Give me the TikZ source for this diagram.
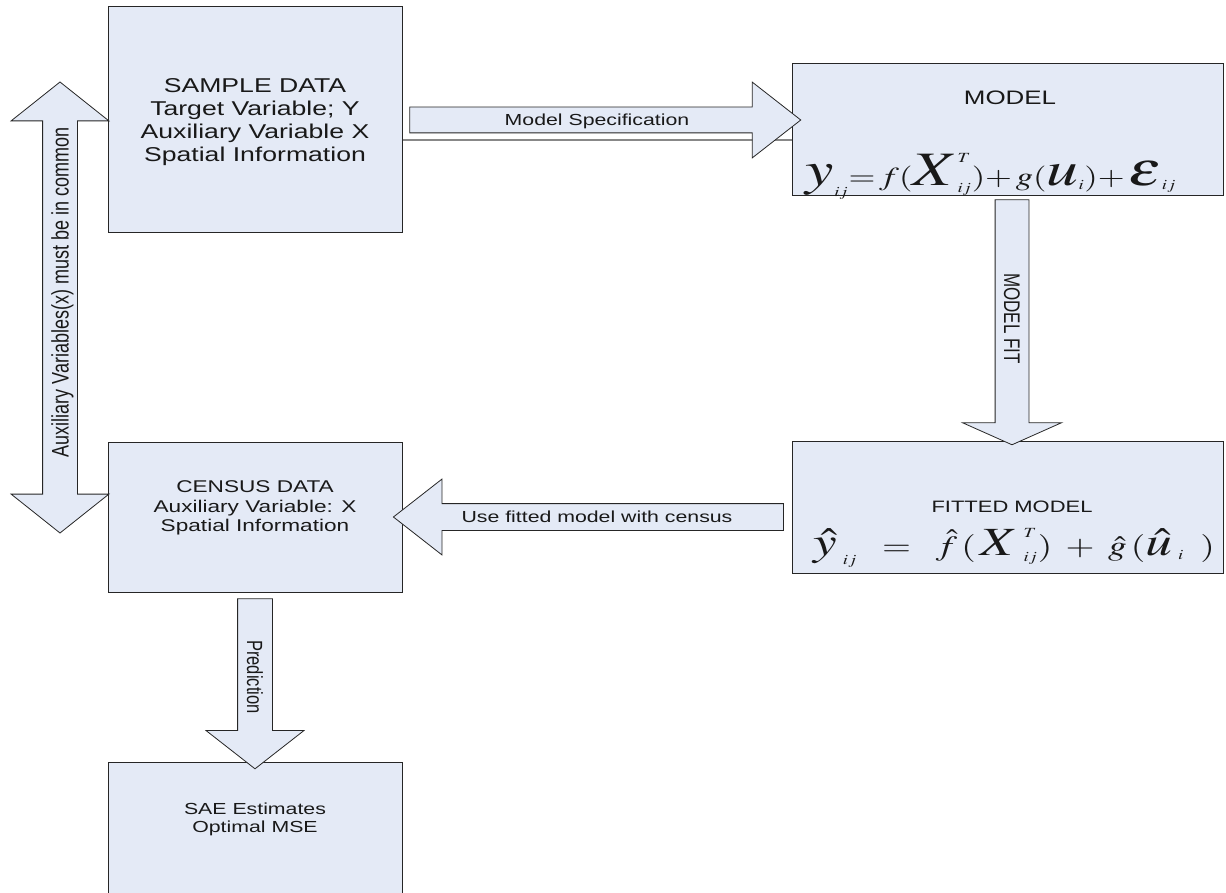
\documentclass[tikz,border=0pt]{standalone}
\usepackage{graphicx}
\usepackage{mathptmx}
\usepackage{fontspec}
\newfontfamily\arial{Liberation Sans}
\usetikzlibrary{shapes.arrows,calc}

\definecolor{boxfill}{RGB}{228,234,246}
\definecolor{boxline}{RGB}{38,38,38}
\definecolor{inktext}{RGB}{25,25,25}

\newcommand{\wide}[1]{\scalebox{1.33}[1]{#1}}
\newcommand{\tall}[1]{\scalebox{1}[1.33]{#1}}
\newcommand{\widelines}[1]{\scalebox{1.33}[1]{\begin{tabular}{@{}c@{}}#1\end{tabular}}}
\newcommand{\bigsym}[2]{\mbox{\fontsize{#1}{#1}\selectfont$#2$}}
\newcommand{\idx}[1]{\mbox{\fontsize{14}{14}\selectfont$#1$}}

\tikzset{
  box/.style={rectangle, draw=boxline, fill=boxfill, line width=1pt, inner sep=0pt},
  boxtext/.style={text=inktext, align=center, inner sep=0pt},
  blockarrow/.style={single arrow, draw=boxline, fill=boxfill, line width=0.8pt,
    single arrow head indent=0pt, inner xsep=0pt, text height=11.5pt, text depth=0pt,
    text=inktext, font=\arial\fontsize{16}{18}\selectfont},
}

\begin{document}
\begin{tikzpicture}[x=1pt, y=-1pt]
  \clip (0,0) rectangle (1226,893);

  % boxes
  \node[box, minimum width=294pt, minimum height=226pt] (sample) at (255,120) {};
  \node[box, minimum width=431pt, minimum height=132pt] (model) at (1007.5,130) {};
  \node[box, minimum width=431pt, minimum height=132pt] (fitted) at (1007.5,507) {};
  \node[box, minimum width=294pt, minimum height=150pt] (census) at (255,517) {};
  \node[box, minimum width=294pt, minimum height=160pt] (sae) at (255,842) {};

  % box texts
  \node[boxtext, font=\arial\fontsize{20}{23}\selectfont] (sampletext) at (255,122)
    {\widelines{SAMPLE DATA\\Target Variable; Y\\Auxiliary Variable X\\Spatial Information}};
  \node[boxtext, font=\arial\fontsize{19.5}{21}\selectfont, anchor=base] (modeltitle) at (1010,105) {\wide{MODEL}};
  \node[boxtext, font=\fontsize{26}{28}\selectfont, anchor=base] (modeleq) at (991,186)
    {\wide{$\bigsym{48}{y}_{\idx{ij}}{=}\,f(\bigsym{48}{X}^{\idx{T}}_{\idx{ij}}){+}\,g(\bigsym{48}{u}_{\idx{i}}){+}\,\bigsym{48}{\varepsilon}_{\idx{ij}}$}};
  \node[boxtext, font=\arial\fontsize{16.5}{19}\selectfont, anchor=base] (fittedtitle) at (1012,512) {\wide{FITTED MODEL}};
  \node[boxtext, font=\fontsize{28}{30}\selectfont, anchor=base] (fittedeq) at (1014,555)
    {\wide{$\bigsym{40}{\hat{y}}_{\;\idx{ij}}\;\;=\;\;\hat{f}\,(\,\bigsym{40}{X}^{\;\idx{T}}_{\;\idx{ij}})\;+\;\hat{g}\,(\bigsym{40}{\hat{u}}_{\;\idx{i}}\;\;)$}};
  \node[boxtext, font=\arial\fontsize{17}{19.5}\selectfont] (censustext) at (255,508.5)
    {\widelines{CENSUS DATA\\Auxiliary Variable: X\\Spatial Information}};
  \node[boxtext, font=\arial\fontsize{16}{18.4}\selectfont] (saetext) at (255,820)
    {\widelines{SAE Estimates\\Optimal MSE}};

  % block arrows
  \draw[boxline!55, line width=1.5pt] ([yshift=-20pt]sample.east) -- ([yshift=-20pt]sample.east -| model.west);
  \node[blockarrow, minimum height=391pt, single arrow head extend=25pt, single arrow tip angle=76,
    inner ysep=6.75pt] (spec) at ($(sample.east)!0.5!(sample.east -| model.west)$) {\wide{Model Specification}};
  \node[blockarrow, rotate=-90, minimum height=245pt, single arrow head extend=32.5pt, single arrow tip angle=132,
    text height=16pt, inner ysep=8.5pt, font=\arial\fontsize{17}{19}\selectfont] (fit)
    at ($(model.south)!0.5!(fitted.north)+(4.5,0)$) {\tall{MODEL FIT}};
  \node[blockarrow, shape border rotate=180, minimum height=390pt, single arrow head extend=24.5pt,
    single arrow tip angle=76, inner ysep=7.25pt] (usefit)
    at ($(census.east)!0.5!(census.east -| fitted.west)$) {\wide{Use fitted model with census}};
  \node[blockarrow, rotate=-90, minimum height=170pt, single arrow head extend=31.5pt, single arrow tip angle=104,
    text height=16pt, inner ysep=9pt, font=\arial\fontsize{16.5}{19}\selectfont] (predict)
    at ($(census.south)!0.5!(sae.north)$) {\tall{Prediction}};
  \node[double arrow, draw=boxline, fill=boxfill, line width=0.8pt, rotate=90, minimum height=451pt,
    double arrow head extend=31.5pt, double arrow tip angle=103, double arrow head indent=0pt,
    inner xsep=0pt, text height=17pt, text depth=0pt, inner ysep=8.5pt, text=inktext,
    font=\arial\fontsize{18}{20}\selectfont] (common) at (60,307.5)
    {\tall{\hspace*{30pt}Auxiliary Variables(x) must be in common}};
\end{tikzpicture}
\end{document}
